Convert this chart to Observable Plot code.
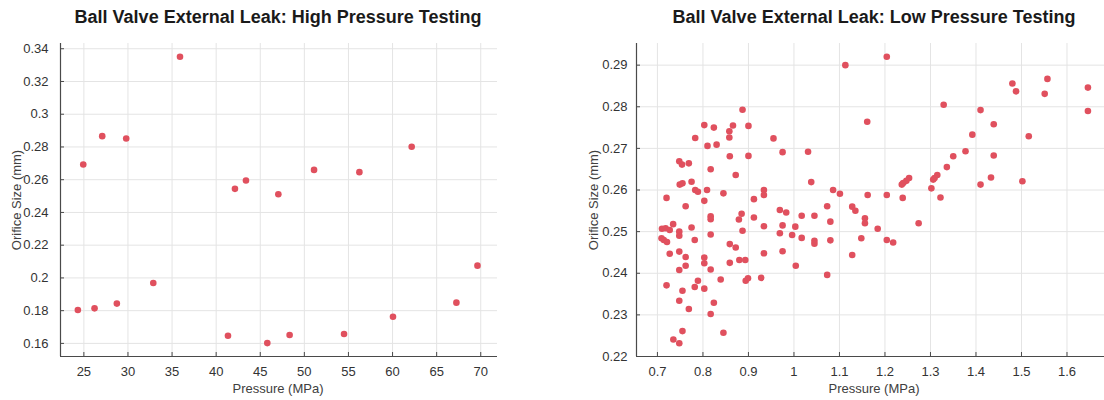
<!DOCTYPE html>
<html><head><meta charset="utf-8">
<script src="https://cdn.jsdelivr.net/npm/d3@7"></script>
<script src="https://cdn.jsdelivr.net/npm/@observablehq/plot@0.6"></script>
<style>
html,body{margin:0;padding:0;background:#fff;overflow:hidden;}
#wrap{position:relative;width:1104px;height:400px;overflow:hidden;font-family:"Liberation Sans",Arial,sans-serif;}
.title{position:absolute;top:7px;font-weight:bold;font-size:18px;color:#1a1a1a;white-space:nowrap;transform:translateX(-50%);}
.xlab{position:absolute;top:381px;font-size:13px;color:#404040;white-space:nowrap;transform:translateX(-50%);}
.ylab{position:absolute;font-size:13px;color:#404040;white-space:nowrap;transform:translate(-50%,-50%) rotate(-90deg);}
.panel{position:absolute;top:0;}
</style></head><body>
<div id="wrap"></div>
<script>
// ---- High pressure testing ----
const hpTitle = "Ball Valve External Leak: High Pressure Testing";
const hpPressure = [24.32, 24.93, 26.21, 27.08, 28.74, 29.8, 32.87, 35.9, 41.34, 42.13, 43.38, 45.8, 47.05, 48.33, 51.1, 54.5, 56.24, 60.05, 62.17, 67.24, 69.63];
const hpOrifice  = [0.1804, 0.2693, 0.1814, 0.2866, 0.1843, 0.2852, 0.1969, 0.3351, 0.1647, 0.2544, 0.2595, 0.1602, 0.2511, 0.1651, 0.266, 0.1657, 0.2646, 0.1763, 0.2801, 0.1849, 0.2075];
const hpXTicks = [25, 30, 35, 40, 45, 50, 55, 60, 65, 70];
const hpYTicks = [0.16, 0.18, 0.2, 0.22, 0.24, 0.26, 0.28, 0.3, 0.32, 0.34];

// ---- Low pressure testing ----
const lpTitle = "Ball Valve External Leak: Low Pressure Testing";
const lpPressure = [
  0.887,0.803,0.824,0.866,0.900,0.858,0.858,0.783,0.810,0.830,0.859,0.900,0.748,0.754,0.769,0.817,0.872,0.749,0.755,0.775,
  0.783,0.789,0.809,0.845,0.720,0.762,0.803,0.817,0.817,0.885,0.879,0.912,0.912,
  0.7345,0.710,0.718,0.727,0.748,0.748,0.775,0.817,0.782,0.709,0.714,0.721,0.727,0.748,0.762,0.762,0.748,0.803,0.803,0.817,
  0.859,0.872,0.887,0.859,0.880,0.893,0.894,0.899,0.839,0.789,0.782,0.803,0.720,0.755,0.748,0.769,0.824,0.817,0.755,0.735,0.748,0.845,
  0.955,0.975,1.031,1.161,1.038,0.934,0.934,1.086,1.101,1.162,1.073,1.128,1.135,0.969,0.983,1.017,1.045,1.080,1.156,1.156,0.934,0.975,1.003,
  0.969,0.996,1.017,1.045,1.045,1.080,1.148,0.934,0.975,1.004,1.073,1.128,0.928,
  1.204,1.329,1.410,1.392,1.377,1.350,1.336,1.253,1.247,1.240,1.237,1.315,1.309,1.306,1.302,1.322,1.410,1.204,1.239,1.184,1.204,1.218,1.274,
  1.480,1.488,1.557,1.551,1.646,1.646,1.439,1.516,1.439,1.433,1.502,
  1.113
];
const lpOrifice = [
  0.2793,0.2756,0.2750,0.2755,0.2754,0.2741,0.2726,0.2725,0.2706,0.2709,0.2681,0.2682,0.2669,0.2661,0.2664,0.2650,0.2636,0.2613,0.2616,0.2620,
  0.2600,0.2596,0.2600,0.2592,0.2581,0.2561,0.2574,0.2537,0.2530,0.2543,0.2529,0.2578,0.2534,
  0.2518,0.2507,0.2508,0.2504,0.2500,0.2490,0.2510,0.2493,0.2480,0.2484,0.2480,0.2475,0.2447,0.2452,0.2439,0.2418,0.2408,0.2438,0.2424,0.2409,
  0.2470,0.2462,0.2502,0.2425,0.2432,0.2432,0.2382,0.2388,0.2385,0.2382,0.2367,0.2363,0.2371,0.2358,0.2334,0.2314,0.2329,0.2302,0.2261,0.2241,0.2232,0.2257,
  0.2724,0.2691,0.2692,0.2764,0.2619,0.2600,0.2588,0.2600,0.2591,0.2588,0.2561,0.2560,0.2550,0.2552,0.2546,0.2538,0.2538,0.2524,0.2532,0.2520,0.2513,0.2515,0.2512,
  0.2496,0.2492,0.2485,0.2478,0.2471,0.2479,0.2484,0.2448,0.2453,0.2418,0.2396,0.2444,0.2389,
  0.2920,0.2805,0.2792,0.2733,0.2693,0.2681,0.2655,0.2629,0.2622,0.2617,0.2613,0.2636,0.2629,0.2625,0.2604,0.2582,0.2613,0.2588,0.2581,0.2507,0.2480,0.2474,0.2520,
  0.2856,0.2837,0.2867,0.2831,0.2846,0.2790,0.2758,0.2729,0.2683,0.2630,0.2621,
  0.2900
];
const lpXTicks = [0.7, 0.8, 0.9, 1.0, 1.1, 1.2, 1.3, 1.4, 1.5, 1.6];
const lpYTicks = [0.22, 0.23, 0.24, 0.25, 0.26, 0.27, 0.28, 0.29];

const xLabel = "Pressure (MPa)";
const yLabel = "Orifice Size (mm)";

const fmt = d => String(+(+d).toFixed(3));
const dotColor = "#e0505e";
const gridColor = "#e4e4e4";
const axisColor = "#4a4a4a";

function panel({px, py, xDomain, yDomain, xTicks, yTicks, width, marginLeft, marginRight, yPad}) {
  const data = px.map((p, i) => ({p, o: py[i]}));
  return Plot.plot({
    width, height: 400,
    marginTop: 43, marginBottom: 44, marginLeft, marginRight,
    style: {fontFamily: "'Liberation Sans', Arial, sans-serif", fontSize: "13px", color: "#333", background: "transparent", overflow: "visible"},
    x: {domain: xDomain},
    y: {domain: yDomain},
    marks: [
      Plot.gridX(xTicks, {stroke: gridColor, strokeOpacity: 1}),
      Plot.gridY(yTicks, {stroke: gridColor, strokeOpacity: 1}),
      Plot.axisX(xTicks, {tickFormat: fmt, tickSize: -4, tickPadding: 14, stroke: axisColor, label: null}),
      Plot.axisY(yTicks, {tickFormat: fmt, tickSize: -4, tickPadding: yPad, stroke: axisColor, label: null}),
      Plot.ruleX([xDomain[0]], {stroke: axisColor, strokeWidth: 1.2}),
      Plot.ruleY([yDomain[0]], {stroke: axisColor, strokeWidth: 1.2}),
      Plot.dot(data, {x: "p", y: "o", r: 3.3, fill: dotColor, stroke: null})
    ]
  });
}

const wrap = document.getElementById("wrap");

const left = panel({px: hpPressure, py: hpOrifice, xDomain: [22.35, 71.9], yDomain: [0.152, 0.3432],
  xTicks: hpXTicks, yTicks: hpYTicks, width: 560, marginLeft: 60, marginRight: 63, yPad: 16});
left.classList.add("panel"); left.style.left = "0px";
wrap.appendChild(left);

const right = panel({px: lpPressure, py: lpOrifice, xDomain: [0.654, 1.7], yDomain: [0.22, 0.2952],
  xTicks: lpXTicks, yTicks: lpYTicks, width: 570, marginLeft: 76, marginRight: 18, yPad: 13});
right.classList.add("panel"); right.style.left = "560px";
wrap.appendChild(right);

function addText(cls, text, styles) {
  const d = document.createElement("div");
  d.className = cls; d.textContent = text;
  Object.assign(d.style, styles);
  wrap.appendChild(d);
}
addText("title", hpTitle, {left: "278px"});
addText("title", lpTitle, {left: "874px"});
addText("xlab", xLabel, {left: "278px"});
addText("xlab", xLabel, {left: "874px"});
addText("ylab", yLabel, {left: "16px", top: "200px"});
addText("ylab", yLabel, {left: "593px", top: "200px"});
</script>
</body></html>
